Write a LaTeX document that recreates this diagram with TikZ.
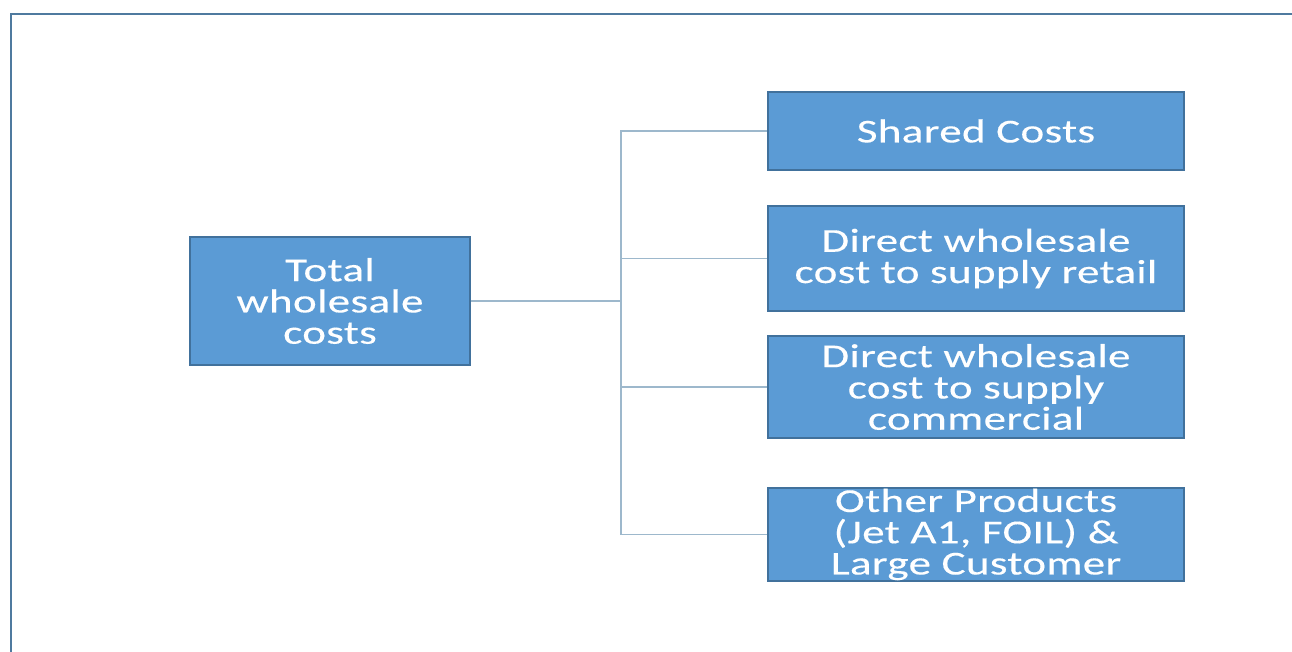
\documentclass[tikz,border=0pt]{standalone}
\usepackage{fontspec}
\setmainfont{Carlito}[FakeStretch=1.35, LetterSpace=1, FakeBold=0.3]
\definecolor{boxfill}{HTML}{5B9BD5}
\definecolor{boxline}{HTML}{41719C}
\definecolor{linkline}{HTML}{9DB8CC}
\definecolor{frameline}{HTML}{4F7A9F}
\begin{document}
\begin{tikzpicture}[
  x=0.02cm, y=-0.02cm,
  costbox/.style={
    draw=boxline, fill=boxfill, rectangle, line width=0.8pt,
    minimum width=8.32cm, align=center, text=white,
    font=\fontsize{19}{17.8}\selectfont, inner sep=0pt
  },
  link/.style={draw=linkline, line width=0.8pt}
]
\useasboundingbox (0,0) rectangle (1292,652);

%% ── Frame ────────────────────────────────────────────────────
\draw[frameline, line width=1.2pt] (11,652) -- (11,14) -- (1292,14);

%% ── Total ────────────────────────────────────────────────────
\node[costbox, minimum width=5.6cm, minimum height=2.56cm] (tot) at (330,301)
  {Total\\wholesale\\costs};

%% ── Cost parts ───────────────────────────────────────────────
\node[costbox, minimum height=1.56cm] (shc) at (976,131) {Shared Costs};
\node[costbox, minimum height=2.10cm] (dwr) at (976,258.5)
  {Direct wholesale\\cost to supply retail};
\node[costbox, minimum height=2.04cm] (dwc) at (976,387)
  {Direct wholesale\\cost to supply\\commercial};
\node[costbox, minimum height=1.86cm] (opl) at (976,534.5)
  {Other Products\\(Jet A1, FOIL) \&\\Large Customer};

%% ── Tree lines ───────────────────────────────────────────────
\coordinate (fork) at (621,301);
\draw[link] (tot) -- (fork);
\draw[link] (fork) |- (shc);
\draw[link] (fork) |- (dwr);
\draw[link] (fork) |- (dwc);
\draw[link] (fork) |- (opl);

\end{tikzpicture}
\end{document}
